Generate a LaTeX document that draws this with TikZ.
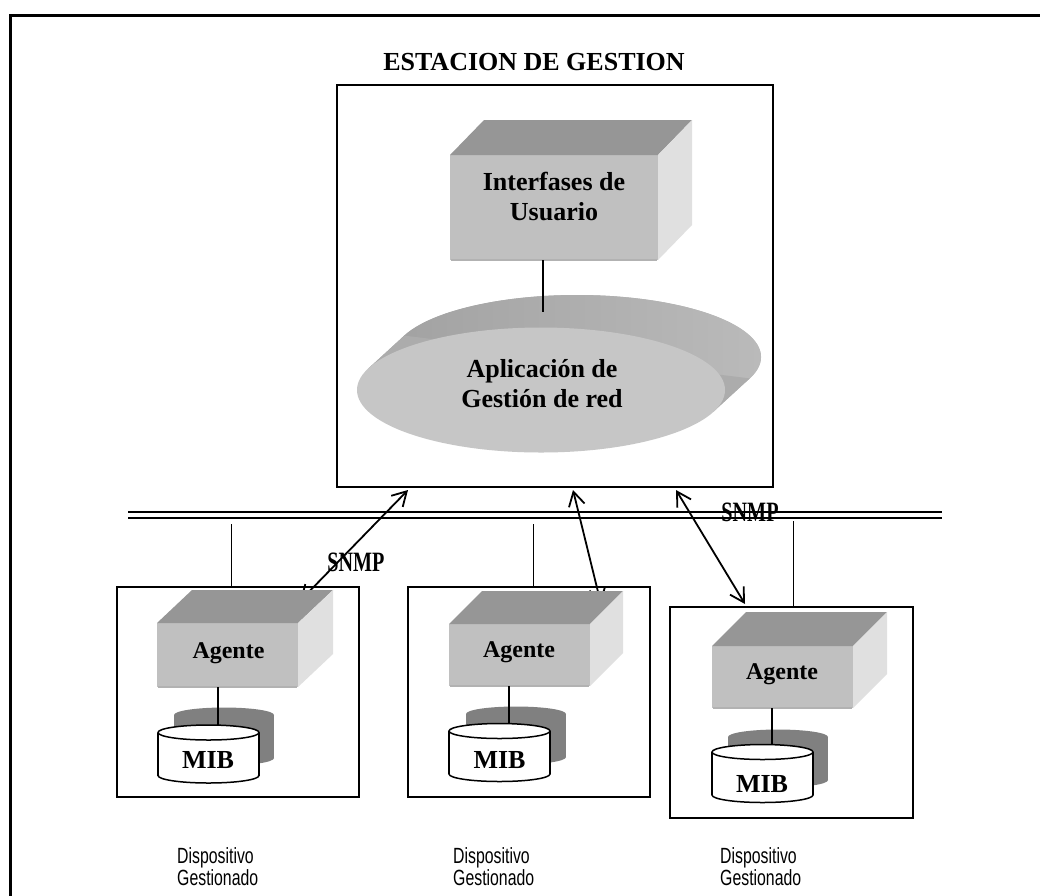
\documentclass[tikz,border=0pt]{standalone}
\usepackage{fontspec}
\setmainfont{Liberation Serif}
\newfontfamily\sansf{Liberation Sans}
\usetikzlibrary{arrows.meta,shapes.geometric}
\definecolor{cubetop}{HTML}{969696}
\definecolor{cubefront}{HTML}{C0C0C0}
\definecolor{cubeedge}{HTML}{B2B2B2}
\definecolor{cuberight}{HTML}{E0E0E0}
\definecolor{ellsideA}{HTML}{A2A2A2}
\definecolor{ellsideB}{HTML}{BABABA}
\definecolor{ellfront}{HTML}{C6C6C6}
\definecolor{dbback}{HTML}{808080}
% cube faces around a front-face node: #1 name, #2 dx, #3 dy
\newcommand\mycube[3]{%
  \fill[cubetop] (#1.north west) -- ++(#2,#3) -- ([shift={(#2,#3)}]#1.north east) -- (#1.north east) -- cycle;
  \fill[cuberight] (#1.north east) -- ([shift={(#2,#3)}]#1.north east) -- ([shift={(#2,#3)}]#1.south east) -- (#1.south east) -- cycle;
  \draw[cubeedge,line width=2] ([xshift=1]#1.south west) -- ([xshift=-1]#1.south east);
}
% back database cylinder: #1 left x, #2 top centre y
\newcommand\backdb[2]{%
  \fill[dbback] (#1,#2) rectangle ({#1+100},{#2+43});
  \fill[dbback] ({#1+50},#2) ellipse [x radius=50, y radius=7.5];
  \fill[dbback] ({#1+50},{#2+43}) ellipse [x radius=50, y radius=7.5];
}
% front database cylinder outline: #1 left x, #2 top centre y
\newcommand\frontdb[2]{%
  \fill[white] (#1,#2) rectangle ({#1+101},{#2+43});
  \fill[white] ({#1+50.5},{#2+43}) ellipse [x radius=50.5, y radius=7.5];
  \draw[line width=1.5] (#1,#2) -- (#1,{#2+43});
  \draw[line width=1.5] ({#1+101},#2) -- ({#1+101},{#2+43});
  \begin{scope}
    \clip ({#1-4},{#2+43}) rectangle ({#1+105},{#2+55});
    \draw[line width=1.5] ({#1+50.5},{#2+43}) ellipse [x radius=50.5, y radius=7.5];
  \end{scope}
  \filldraw[fill=white,line width=1.5] ({#1+50.5},#2) ellipse [x radius=50.5, y radius=7.5];
}
\begin{document}
\begin{tikzpicture}[x=1pt,y=-1pt,
  face/.style={fill=cubefront, inner sep=0, outer sep=0},
  bigtxt/.style={font=\fontsize{26}{30}\selectfont\bfseries, align=center, inner sep=0},
  agtxt/.style={font=\fontsize{24}{28}\selectfont\bfseries, inner sep=0},
  mibtxt/.style={font=\fontsize{26}{30}\selectfont\bfseries, inner sep=0},
  snmptxt/.style={font=\fontsize{28}{30}\selectfont\bfseries, inner sep=0},
  devlbl/.style={font=\sansf\fontsize{22}{21}\selectfont, inner sep=0, anchor=north west},
  stbox/.style={draw, line width=2, inner sep=0, outer sep=0},
  devbox/.style={draw, line width=2, inner sep=0, outer sep=0},
  thinline/.style={line width=1},
  midline/.style={line width=1.6},
  snmparrow/.style={line width=1.8, {Straight Barb[length=14pt,width=16pt]}-{Straight Barb[length=14pt,width=16pt]}},
  busline/.style={line width=2.2}]
\useasboundingbox (0,0) rectangle (1040,895);
\clip (0,0) rectangle (1040,895);
\fill[white] (0,0) rectangle (1040,895);
% outer frame (runs off the page at right and bottom)
\draw[line width=3] (10,15) rectangle (1060,920);

% title and management station
\node[bigtxt, anchor=base] (ttl) at (534,70) {ESTACION DE GESTION};
\node[stbox, minimum width=436, minimum height=402] (st) at (555,286) {};

% user interface cube
\node[face, minimum width=208, minimum height=105] (ui) at (554,207.5) {};
\mycube{ui}{34}{-35}
\node[bigtxt] (uitxt) at (554,196) {Interfases de\\Usuario};

% application disc (extruded ellipse)
\shade[left color=ellsideA, right color=ellsideB]
  (368.3,368.6) -- (404.3,335.6) arc[start angle=200.2, end angle=380.2, x radius=184, y radius=62]
  -- (713.7,411.4) -- cycle;
\shade[left color=ellsideA, right color=ellsideB] (577,357) ellipse [x radius=184, y radius=62];
\fill[ellsideA!60!ellsideB] (368.3,368.6) -- (404.3,335.6) -- (749.7,378.4) -- (713.7,411.4) -- cycle;
\coordinate (apptop) at (543,312);
\draw[midline] (ui.south -| apptop) -- (apptop);
\node[ellipse, fill=ellfront, minimum width=368, minimum height=125, inner sep=0] (app) at (541,390) {};
\node[bigtxt] (apptxt) at (542,384) {Aplicación de\\Gestión de red};

% network bus
\coordinate (busL) at (128,518);
\coordinate (busR) at (942,518);
\draw[busline] (busL) -- (busR);
\draw[busline] ([yshift=6]busL) -- ([yshift=6]busR);

% managed devices
\node[devbox, minimum width=242, minimum height=210] (d1) at (238,692) {};
\node[devbox, minimum width=242, minimum height=210] (d2) at (529,692) {};
\node[devbox, minimum width=243, minimum height=211] (d3) at (791.5,712.5) {};

\coordinate (t1) at (231,524);
\coordinate (t2) at (533,524);
\coordinate (t3) at (793,521);
\draw[thinline] (t1) -- (t1 |- d1.north);
\draw[thinline] (t2) -- (t2 |- d2.north);
\draw[thinline] (t3) -- (t3 |- d3.north);

% SNMP arrows
\coordinate (a1t) at (408,490);
\coordinate (a1b) at (300,601);
\coordinate (a2t) at (573,490);
\coordinate (a2b) at (601,604);
\coordinate (a3t) at (676,490);
\coordinate (a3b) at (745,604);
\draw[snmparrow] (a1b) -- (a1t);
\draw[snmparrow] (a2b) -- (a2t);
\draw[snmparrow] (a3b) -- (a3t);
\node[snmptxt] (s1) at (356,562) {\scalebox{0.72}[1]{SNMP}};
\node[snmptxt] (s2) at (750,512) {\scalebox{0.72}[1]{SNMP}};

% agents
\node[face, minimum width=141, minimum height=64] (ag1) at (227.5,655) {};
\mycube{ag1}{35}{-33}
\node[face, minimum width=141, minimum height=62] (ag2) at (519.5,655) {};
\mycube{ag2}{33}{-33}
\node[face, minimum width=141, minimum height=62] (ag3) at (782.5,677) {};
\mycube{ag3}{34}{-34}
\node[agtxt, anchor=base] (ag1t) at (228.5,658) {Agente};
\node[agtxt, anchor=base] (ag2t) at (519,657) {Agente};
\node[agtxt, anchor=base] (ag3t) at (782,679) {Agente};

% MIB databases
\backdb{174}{715}
\backdb{466}{714}
\backdb{728}{737}
\coordinate (m1) at (218,728);
\coordinate (m2) at (509,727);
\coordinate (m3) at (772,748);
\draw[midline] (ag1.south -| m1) -- (m1);
\draw[midline] (ag2.south -| m2) -- (m2);
\draw[midline] (ag3.south -| m3) -- (m3);
\frontdb{158}{732.5}
\frontdb{449}{731}
\frontdb{712}{752}
\node[mibtxt, anchor=base] (mib1) at (208,768) {MIB};
\node[mibtxt, anchor=base] (mib2) at (499.5,768) {MIB};
\node[mibtxt, anchor=base] (mib3) at (762,792) {MIB};

% device labels
\node[devlbl] (l1) at (177,847) {\scalebox{0.72}[1]{\begin{tabular}{@{}l@{}}Dispositivo\\Gestionado\end{tabular}}};
\node[devlbl] (l2) at (453,847) {\scalebox{0.72}[1]{\begin{tabular}{@{}l@{}}Dispositivo\\Gestionado\end{tabular}}};
\node[devlbl] (l3) at (720,847) {\scalebox{0.72}[1]{\begin{tabular}{@{}l@{}}Dispositivo\\Gestionado\end{tabular}}};
\end{tikzpicture}
\end{document}
